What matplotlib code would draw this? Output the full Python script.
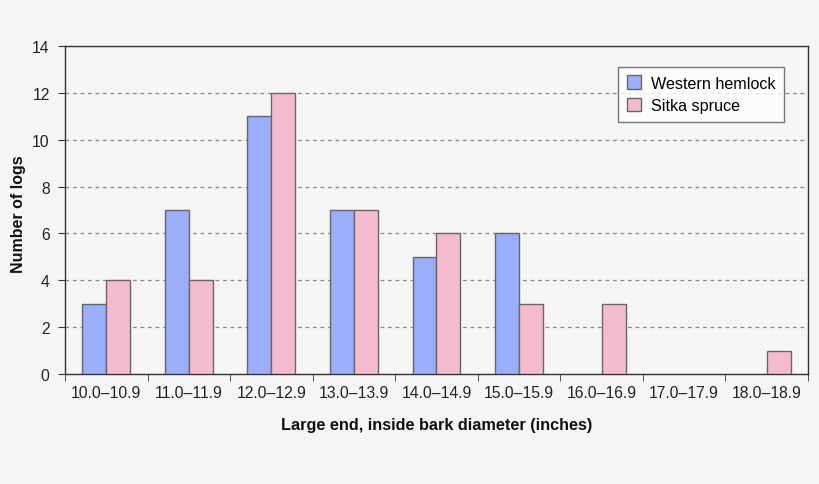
import numpy as np
import matplotlib.pyplot as plt

plt.rcParams['font.family'] = ['Liberation Sans', 'DejaVu Sans']

# diameter classes and counts per species
classes = ['10.0\u201310.9', '11.0\u201311.9', '12.0\u201312.9', '13.0\u201313.9',
           '14.0\u201314.9', '15.0\u201315.9', '16.0\u201316.9', '17.0\u201317.9',
           '18.0\u201318.9']
hemlock = [3, 7, 11, 7, 5, 6, 0, 0, 0]
spruce = [4, 4, 12, 7, 6, 3, 3, 0, 1]
y_ticks = [0, 2, 4, 6, 8, 10, 12, 14]

bg = '#f5f5f5'
fig = plt.figure(figsize=(8.2, 4.85), dpi=100, facecolor=bg)
ax = fig.add_axes([65 / 820, 1 - 375 / 485, 743 / 820, 328 / 485])
ax.set_facecolor(bg)

x = np.arange(len(classes))
w = 0.29
ax.bar(x - w / 2, hemlock, w, color='#9aaefc', edgecolor='#666666',
       linewidth=[1 if v else 0 for v in hemlock],
       label='Western hemlock', zorder=3)
ax.bar(x + w / 2, spruce, w, color='#f4bbcf', edgecolor='#666666',
       linewidth=[1 if v else 0 for v in spruce],
       label='Sitka spruce', zorder=3)

ax.set_xlim(-0.5, len(classes) - 0.5)
ax.set_ylim(0, 14)
ax.set_yticks(y_ticks)
ax.set_xticks(x)
ax.set_xticklabels(classes, fontsize=11.3, color='#222222')
ax.tick_params(axis='x', length=0, pad=8)
ax.set_xticks(np.arange(-0.5, len(classes)), minor=True)
ax.tick_params(axis='x', which='minor', length=5, direction='out', color='#333333')
ax.tick_params(axis='y', labelsize=11.3, labelcolor='#222222', length=5,
               color='#333333', pad=6)

ax.grid(axis='y', linestyle=(0, (3, 3)), color='#888888', linewidth=0.9, zorder=0)
for s in ax.spines.values():
    s.set_color('#333333')
    s.set_linewidth(1)

ax.set_xlabel('Large end, inside bark diameter (inches)', fontsize=11.7,
              fontweight='bold', labelpad=12, color='#111111')
ax.set_ylabel('Number of logs', fontsize=11.5, fontweight='bold', color='#111111')
ax.yaxis.set_label_coords(-0.053, 0.491)

leg = ax.legend(loc='upper right', bbox_to_anchor=(0.979, 0.962), fontsize=11.6,
                frameon=True, fancybox=False, edgecolor='#555555',
                handlelength=0.9, handleheight=0.9, handletextpad=0.6,
                borderpad=0.55, labelspacing=0.45)
leg.get_frame().set_linewidth(1)
leg.get_frame().set_facecolor('white')

fig.savefig('out.png', dpi=100, facecolor=bg)
